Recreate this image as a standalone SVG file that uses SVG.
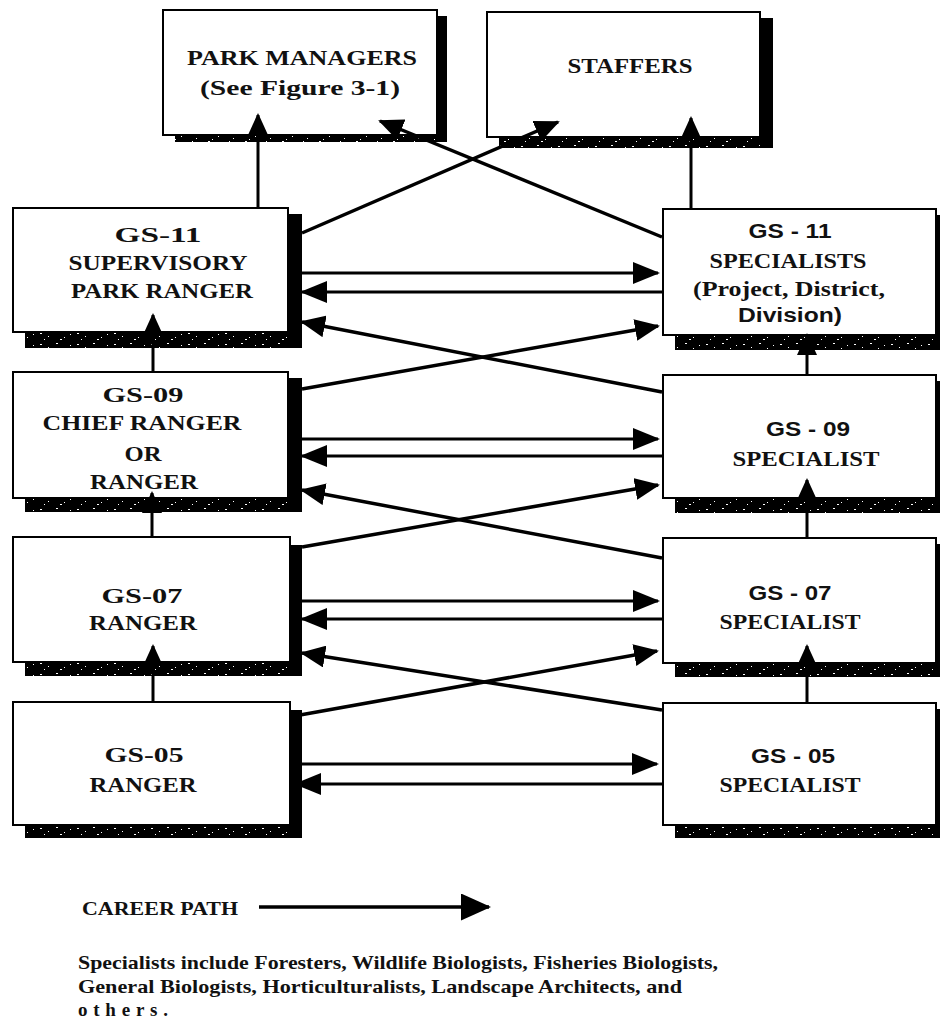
<svg xmlns="http://www.w3.org/2000/svg" width="940" height="1023" viewBox="0 0 940 1023">
<defs>
<style>
.box{fill:#fff;stroke:#000;stroke-width:2}
.sh{fill:#000}
.spk{fill:url(#speckle)}
.t{font-family:"Liberation Serif","Times New Roman",serif;font-weight:bold;font-size:21px;fill:#111;text-anchor:middle}
.s{font-family:"Liberation Sans",Arial,sans-serif;font-weight:bold;font-size:20px;fill:#111;text-anchor:middle}
.cv{fill:none;stroke:#000;stroke-width:3;marker-end:url(#av)}
.ch{fill:none;stroke:#000;stroke-width:3;marker-end:url(#ah)}
.cd{fill:none;stroke:#000;stroke-width:3.5;marker-end:url(#ad)}
.note{font-family:"Liberation Serif","Times New Roman",serif;font-weight:bold;font-size:19px;fill:#111}
</style>
<pattern id="speckle" width="37" height="11" patternUnits="userSpaceOnUse">
<rect width="37" height="11" fill="#000"/>
<rect x="3" y="3" width="2" height="1" fill="#fff"/>
<rect x="11" y="6" width="1" height="1" fill="#fff"/>
<rect x="19" y="2" width="2" height="1" fill="#fff"/>
<rect x="27" y="7" width="1" height="1" fill="#fff"/>
<rect x="33" y="4" width="1" height="1" fill="#fff"/>
<rect x="7" y="9" width="1" height="1" fill="#fff"/>
<rect x="23" y="9" width="2" height="1" fill="#fff"/>
</pattern>
<marker id="av" markerUnits="userSpaceOnUse" viewBox="0 0 22 20" markerWidth="22" markerHeight="20" refX="20" refY="10" orient="auto">
<path d="M0,0 L22,10 L0,20 Z" fill="#000"/>
</marker>
<marker id="ah" markerUnits="userSpaceOnUse" viewBox="0 0 27 22" markerWidth="27" markerHeight="22" refX="25" refY="11" orient="auto">
<path d="M0,0 L27,11 L0,22 Z" fill="#000"/>
</marker>
<marker id="ad" markerUnits="userSpaceOnUse" viewBox="0 0 25 22" markerWidth="25" markerHeight="22" refX="23" refY="11" orient="auto">
<path d="M0,0 L25,11 L0,22 Z" fill="#000"/>
</marker>
<marker id="al" markerUnits="userSpaceOnUse" viewBox="0 0 30 27" markerWidth="30" markerHeight="27" refX="28" refY="13.5" orient="auto">
<path d="M0,0 L30,13.5 L0,27 Z" fill="#000"/>
</marker>
</defs>
<rect width="940" height="1023" fill="#fff"/>

<g id="park-managers">
<rect class="sh" x="175" y="16" width="272" height="126"/>
<rect class="spk" x="175" y="136" width="262" height="6"/>
<rect class="box" x="163" y="10" width="274" height="125"/>
<text class="t" x="302" y="65" textLength="230" lengthAdjust="spacingAndGlyphs">PARK MANAGERS</text>
<text class="t" x="300" y="95" textLength="200" lengthAdjust="spacingAndGlyphs">(See Figure 3-1)</text>
</g>

<g id="staffers">
<rect class="sh" x="499" y="18" width="274" height="130"/>
<rect class="spk" x="499" y="138" width="261" height="10"/>
<rect class="box" x="487" y="12" width="273" height="125"/>
<text class="t" x="630" y="73" textLength="125" lengthAdjust="spacingAndGlyphs">STAFFERS</text>
</g>

<g id="gs11-ranger">
<rect class="sh" x="25" y="214" width="277" height="134"/>
<rect class="spk" x="25" y="333" width="263" height="15"/>
<rect class="box" x="13" y="208" width="275" height="124"/>
<text class="t" x="158" y="242" textLength="87" lengthAdjust="spacingAndGlyphs">GS-11</text>
<text class="t" x="158" y="270" textLength="179" lengthAdjust="spacingAndGlyphs">SUPERVISORY</text>
<text class="t" x="162" y="298" textLength="182" lengthAdjust="spacingAndGlyphs">PARK RANGER</text>
</g>

<g id="gs09-ranger">
<rect class="sh" x="25" y="378" width="277" height="134"/>
<rect class="spk" x="25" y="499" width="263" height="13"/>
<rect class="box" x="13" y="372" width="275" height="126"/>
<text class="t" x="143" y="402" textLength="81" lengthAdjust="spacingAndGlyphs">GS-09</text>
<text class="t" x="142" y="430" textLength="199" lengthAdjust="spacingAndGlyphs">CHIEF RANGER</text>
<text class="t" x="143" y="461" textLength="37" lengthAdjust="spacingAndGlyphs">OR</text>
<text class="t" x="144" y="489" textLength="108" lengthAdjust="spacingAndGlyphs">RANGER</text>
</g>

<g id="gs07-ranger">
<rect class="sh" x="25" y="545" width="277" height="131"/>
<rect class="spk" x="25" y="663" width="265" height="13"/>
<rect class="box" x="13" y="537" width="277" height="125"/>
<text class="t" x="142" y="603" textLength="81" lengthAdjust="spacingAndGlyphs">GS-07</text>
<text class="t" x="143" y="630" textLength="108" lengthAdjust="spacingAndGlyphs">RANGER</text>
</g>

<g id="gs05-ranger">
<rect class="sh" x="25" y="710" width="277" height="128"/>
<rect class="spk" x="25" y="826" width="265" height="12"/>
<rect class="box" x="13" y="702" width="277" height="123"/>
<text class="t" x="144" y="762" textLength="79" lengthAdjust="spacingAndGlyphs">GS-05</text>
<text class="t" x="143" y="792" textLength="107" lengthAdjust="spacingAndGlyphs">RANGER</text>
</g>

<g id="gs11-specialists">
<rect class="sh" x="675" y="215" width="270" height="135"/>
<rect class="spk" x="675" y="336" width="261" height="14"/>
<rect class="box" x="663" y="209" width="273" height="126"/>
<text class="s" x="790" y="238" textLength="83" lengthAdjust="spacingAndGlyphs">GS - 11</text>
<text class="t" x="788" y="268" textLength="157" lengthAdjust="spacingAndGlyphs">SPECIALISTS</text>
<text class="t" x="789" y="296" textLength="192" lengthAdjust="spacingAndGlyphs">(Project, District,</text>
<text class="s" x="790" y="322" textLength="104" lengthAdjust="spacingAndGlyphs">Division)</text>
</g>

<g id="gs09-specialist">
<rect class="sh" x="675" y="381" width="270" height="132"/>
<rect class="spk" x="675" y="499" width="261" height="14"/>
<rect class="box" x="663" y="375" width="273" height="123"/>
<text class="s" x="808" y="436" textLength="84" lengthAdjust="spacingAndGlyphs">GS - 09</text>
<text class="t" x="806" y="466" textLength="147" lengthAdjust="spacingAndGlyphs">SPECIALIST</text>
</g>

<g id="gs07-specialist">
<rect class="sh" x="675" y="544" width="270" height="133"/>
<rect class="spk" x="675" y="664" width="261" height="13"/>
<rect class="box" x="663" y="538" width="273" height="125"/>
<text class="s" x="790" y="600" textLength="83" lengthAdjust="spacingAndGlyphs">GS - 07</text>
<text class="t" x="790" y="629" textLength="141" lengthAdjust="spacingAndGlyphs">SPECIALIST</text>
</g>

<g id="gs05-specialist">
<rect class="sh" x="675" y="709" width="270" height="129"/>
<rect class="spk" x="675" y="826" width="261" height="12"/>
<rect class="box" x="663" y="703" width="273" height="122"/>
<text class="s" x="793" y="763" textLength="84" lengthAdjust="spacingAndGlyphs">GS - 05</text>
<text class="t" x="790" y="792" textLength="141" lengthAdjust="spacingAndGlyphs">SPECIALIST</text>
</g>

<g id="connectors">
<line class="cv" x1="153" y1="702" x2="153" y2="646"/>
<line class="cv" x1="152" y1="537" x2="152" y2="493"/>
<line class="cv" x1="153" y1="372" x2="153" y2="315"/>
<line class="cv" x1="258" y1="208" x2="258" y2="115"/>
<line class="cv" x1="807" y1="703" x2="807" y2="646"/>
<line class="cv" x1="807" y1="538" x2="807" y2="480"/>
<line class="cv" x1="807" y1="375" x2="807" y2="335"/>
<line class="cv" x1="691" y1="209" x2="691" y2="118"/>
<line class="ch" x1="302" y1="273" x2="658" y2="273"/>
<line class="ch" x1="662" y1="292" x2="302" y2="292"/>
<line class="ch" x1="302" y1="439" x2="658" y2="439"/>
<line class="ch" x1="662" y1="456" x2="302" y2="456"/>
<line class="ch" x1="302" y1="601" x2="658" y2="601"/>
<line class="ch" x1="662" y1="619" x2="302" y2="619"/>
<line class="ch" x1="302" y1="764" x2="657" y2="764"/>
<line class="ch" x1="662" y1="784" x2="296" y2="784"/>
<line class="cd" x1="302" y1="233" x2="558" y2="122"/>
<line class="cd" x1="662" y1="237" x2="380" y2="121"/>
<line class="cd" x1="662" y1="392" x2="302" y2="322"/>
<line class="cd" x1="302" y1="389" x2="658" y2="326"/>
<line class="cd" x1="662" y1="558" x2="302" y2="490"/>
<line class="cd" x1="302" y1="547" x2="658" y2="485"/>
<line class="cd" x1="662" y1="710" x2="302" y2="653"/>
<line class="cd" x1="300" y1="715" x2="657" y2="651"/>
</g>

<g id="legend">
<text class="note" x="82" y="915" textLength="156" lengthAdjust="spacingAndGlyphs">CAREER PATH</text>
<line x1="259" y1="907" x2="489" y2="907" stroke="#000" stroke-width="3.5" marker-end="url(#al)"/>
</g>

<g id="note">
<text class="note" x="78" y="969" textLength="640" lengthAdjust="spacingAndGlyphs">Specialists include Foresters, Wildlife Biologists, Fisheries Biologists,</text>
<text class="note" x="78" y="993" textLength="604" lengthAdjust="spacingAndGlyphs">General Biologists, Horticulturalists, Landscape Architects, and</text>
<text class="note" x="78" y="1016" textLength="90" lengthAdjust="spacing">others.</text>
</g>
</svg>
